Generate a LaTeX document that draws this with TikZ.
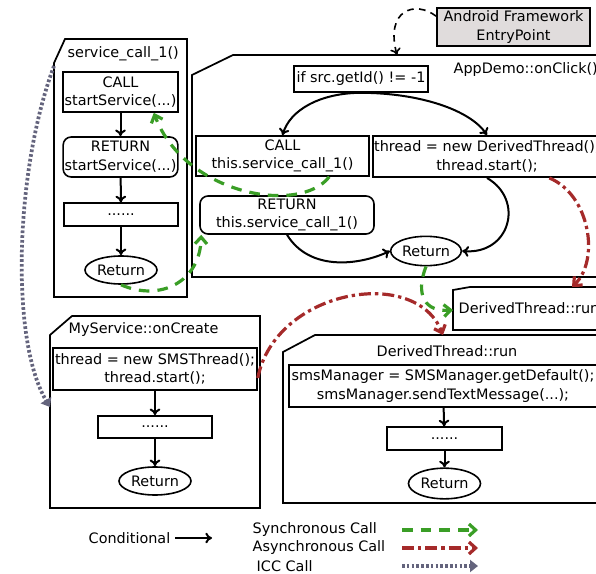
\documentclass[tikz,border=0pt]{standalone}
\usepackage{fontspec}
\setmainfont{DejaVu Sans}
\usetikzlibrary{arrows.meta,shapes.geometric}
\definecolor{syncgreen}{RGB}{58,158,38}
\definecolor{asyncred}{RGB}{165,42,42}
\definecolor{iccgray}{RGB}{100,100,125}
\definecolor{entryfill}{RGB}{224,220,220}

\begin{document}
\begin{tikzpicture}[x=0.75pt,y=-0.75pt,
	font=\fontsize{10.8}{14}\selectfont,
	stmt/.style={draw,line width=1.2pt,align=center,inner sep=0.5pt},
	retstmt/.style={stmt,rounded corners=6pt},
	endpt/.style={draw,ellipse,line width=1.2pt,inner sep=0pt,minimum width=54pt,minimum height=21pt},
	methodframe/.style={draw,line width=1.3pt},
	cond/.style={line width=1.5pt,-{To[length=5pt,width=8pt]}},
	sync/.style={syncgreen,line width=2.4pt,dash pattern=on 8pt off 6pt,-{Straight Barb[length=5pt,width=9pt]}},
	async/.style={asyncred,line width=2.4pt,dash pattern=on 9pt off 3pt on 2.5pt off 3pt,-{Straight Barb[length=5pt,width=9pt]}},
	icc/.style={iccgray,line width=2.8pt,dash pattern=on 2pt off 1.6pt,-{Triangle[length=6pt,width=9pt]}}]
	\useasboundingbox (0,0) rectangle (596,574);

	\draw[methodframe] (54,63) -- (65,39) -- (187,39) -- (187,297) -- (54,297) -- cycle;
	\draw[methodframe] (192,75) -- (233,55) -- (610,55) -- (610,277) -- (192,277) -- cycle;
	\draw[methodframe] (453,290) -- (470,287) -- (610,287) -- (610,330) -- (453,330) -- cycle;
	\draw[methodframe] (283,352) -- (315,335) -- (610,335) -- (610,503) -- (283,503) -- cycle;
	\draw[methodframe] (50,335) -- (72,316) -- (260,316) -- (260,508) -- (50,508) -- cycle;
	\coordinate (sctop) at (54,66);
	\coordinate (apptop) at (397,55);
	\coordinate (smallleft) at (453,310);
	\coordinate (smalltop) at (572,287);
	\coordinate (runtop) at (443,335);
	\coordinate (msleft) at (50,407);

	\node[anchor=west] (sctitle) at (63,54) {service\_call\_1()};
	\node[stmt,minimum width=86pt,minimum height=30pt] (startcall) at (120.5,92) {CALL\\startService(...)};
	\node[retstmt,minimum width=86pt,minimum height=30pt] (startret) at (120.5,157) {RETURN\\startService(...)};
	\node[stmt,minimum width=85.5pt,minimum height=17pt] (scdots) at (121,214.5) {......};
	\node[endpt] (scret) at (121,270) {Return};
	\draw[cond] (startcall) -- (startret);
	\draw[cond] (startret) -- (scdots);
	\draw[cond] (scdots) -- (scret);

	\node[stmt,fill=entryfill,minimum width=115pt,minimum height=28.5pt] (entry) at (513.5,27) {Android Framework\\EntryPoint};
	\node[anchor=west] (apptitle) at (449,70) {AppDemo::onClick()};
	\node[stmt,minimum width=100.5pt,minimum height=19.5pt] (ifsrc) at (361,79) {if src.getId() != -1};
	\node[stmt,minimum width=130pt,minimum height=30pt] (thiscall) at (282.5,156) {CALL\\this.service\_call\_1()};
	\node[stmt,minimum width=171pt,minimum height=31pt] (newthread) at (487,156.5) {thread = new DerivedThread();\\thread.start();};
	\node[retstmt,minimum width=130.5pt,minimum height=28.5pt] (thisret) at (287,215) {RETURN\\this.service\_call\_1()};
	\node[endpt,minimum width=53pt,minimum height=22pt] (appret) at (426,251) {Return};
	\draw[cond] (ifsrc.south) .. controls (320,93) and (290,110) .. (thiscall.north);
	\draw[cond] (ifsrc.south) .. controls (420,93) and (470,110) .. (newthread.north);
	\draw[cond] (newthread.south) .. controls (525,200) and (510,255) .. (appret.east);
	\draw[cond] (thisret.south) .. controls (310,272) and (360,265) .. (appret.west);
	\draw[line width=1.2pt,dash pattern=on 5pt off 4pt,-{To[length=5pt,width=8pt]}] (entry.172) .. controls (415,0) and (385,10) .. (apptop);

	\node[anchor=west] (smalltitle) at (454,308) {DerivedThread::run};

	\node[anchor=west] (mstitle) at (64,330) {MyService::onCreate};
	\node[stmt,minimum width=153pt,minimum height=31.5pt] (smsthread) at (155,369) {thread = new SMSThread();\\thread.start();};
	\node[stmt,minimum width=85.5pt,minimum height=16.5pt] (msdots) at (155,427) {......};
	\node[endpt] (msret) at (155,481) {Return};
	\draw[cond] (smsthread) -- (msdots);
	\draw[cond] (msdots) -- (msret);

	\node (runtitle) at (447,351) {DerivedThread::run};
	\node[stmt,minimum width=231pt,minimum height=31.5pt] (sendsms) at (443,386) {smsManager = SMSManager.getDefault();\\smsManager.sendTextMessage(...);};
	\node[stmt,minimum width=86pt,minimum height=17pt] (rundots) at (444.5,438.5) {......};
	\node[endpt,minimum height=23pt] (runret) at (444.5,483.5) {Return};
	\draw[cond] (sendsms) -- (rundots);
	\draw[cond] (rundots) -- (runret);

	\draw[sync] (thiscall.-24) .. controls (300,215) and (185,195) .. (startcall.-32);
	\draw[sync] (scret.south) .. controls (160,302) and (200,282) .. (thisret.-167);
	\draw[sync] (appret.south) .. controls (415,295) and (425,312) .. (smallleft);
	\draw[async] (newthread.-19) .. controls (590,195) and (600,260) .. (smalltop);
	\draw[async] (smsthread.-5) .. controls (275,290) and (415,265) .. (runtop);
	\draw[icc] (sctop) .. controls (15,170) and (10,340) .. (msleft);

	\node[anchor=east] (condlbl) at (175,538) {Conditional};
	\coordinate (condend) at (212,538);
	\draw[cond] (condlbl.east) -- (condend);
	\node[anchor=west] (synclbl) at (248,530) {Synchronous Call};
	\node[anchor=west] (asynclbl) at (248,548) {Asynchronous Call};
	\node[anchor=west] (icclbl) at (252,566) {ICC Call};
	\coordinate (syncfrom) at (402,530);
	\coordinate (syncto) at (478,530);
	\coordinate (asyncfrom) at (402,548);
	\coordinate (asyncto) at (478,548);
	\coordinate (iccfrom) at (402,566);
	\coordinate (iccto) at (478,566);
	\draw[sync] (syncfrom) -- (syncto);
	\draw[async] (asyncfrom) -- (asyncto);
	\draw[icc] (iccfrom) -- (iccto);
\end{tikzpicture}
\end{document}
